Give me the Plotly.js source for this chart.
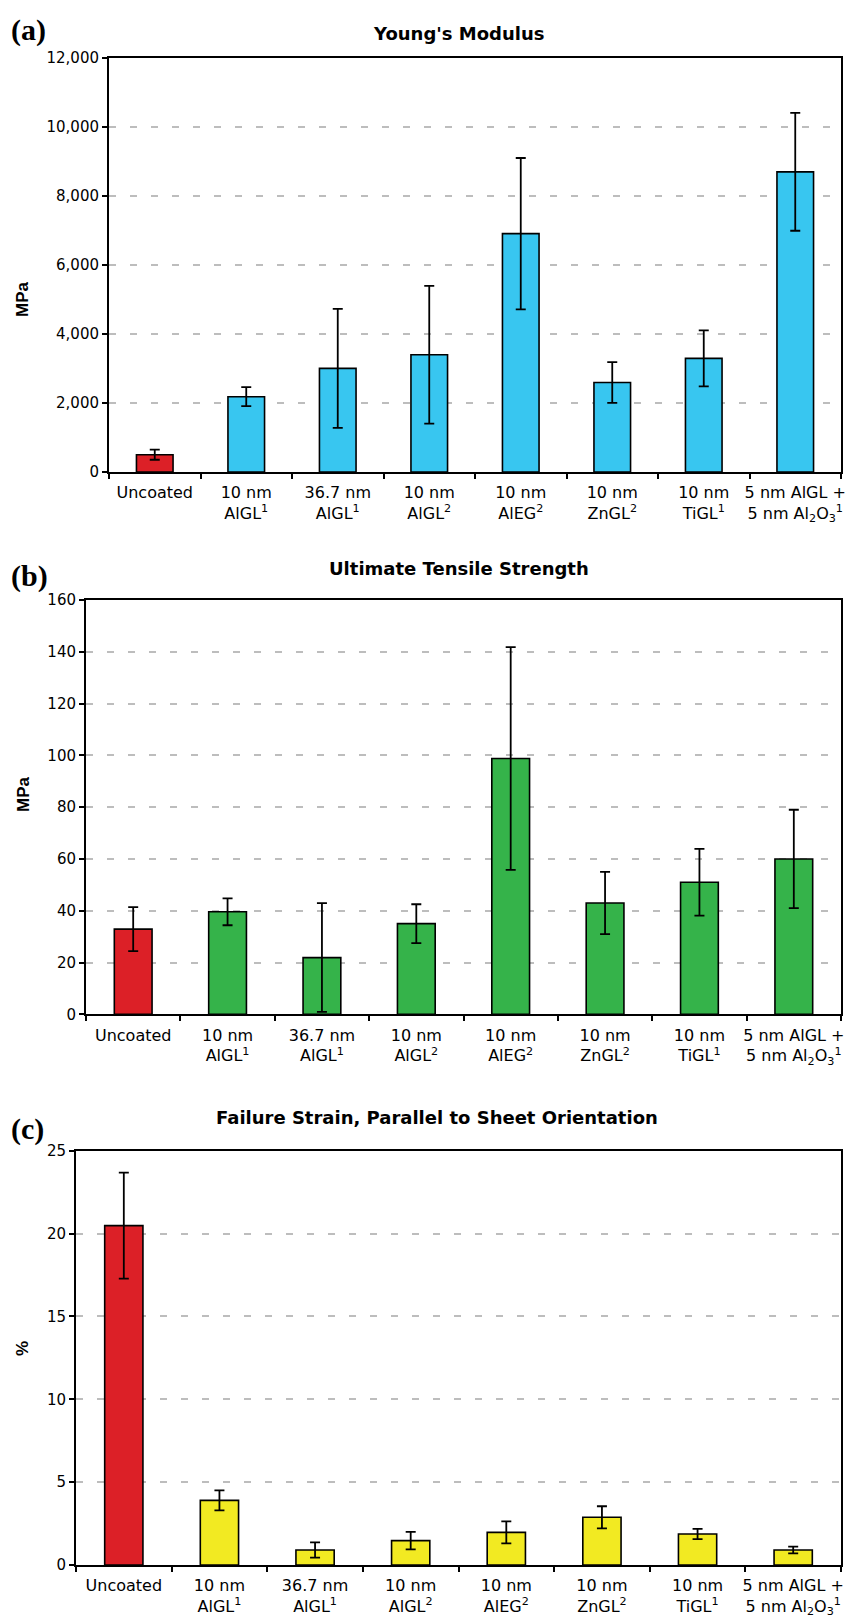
<!DOCTYPE html>
<html>
<head>
<meta charset="utf-8">
<script src="https://cdn.plot.ly/plotly-3.0.1.min.js"></script>
<style>html,body{margin:0;padding:0;background:#fff;}#chart{width:851px;height:1618px;}</style>
</head>
<body>
<div id="chart"></div>
<script>
// ---- data ----
const categories = [
  "Uncoated",
  "10 nm<br>AlGL<sup>1</sup>",
  "36.7 nm<br>AlGL<sup>1</sup>",
  "10 nm<br>AlGL<sup>2</sup>",
  "10 nm<br>AlEG<sup>2</sup>",
  "10 nm<br>ZnGL<sup>2</sup>",
  "10 nm<br>TiGL<sup>1</sup>",
  "5 nm AlGL +<br>5 nm Al<sub>2</sub>O<sub>3</sub><sup>1</sup>"
];
const modulusValues = [500, 2180, 3000, 3395, 6900, 2590, 3290, 8690];
const modulusErrors = [145, 275, 1725, 1995, 2190, 590, 810, 1705];
const utsValues = [32.9, 39.6, 21.9, 35.0, 98.8, 43.0, 51.0, 60.0];
const utsErrors = [8.5, 5.2, 21.0, 7.5, 43.0, 12.0, 12.9, 19.0];
const strainValues = [20.48, 3.90, 0.905, 1.47, 1.97, 2.88, 1.87, 0.905];
const strainErrors = [3.2, 0.6, 0.46, 0.53, 0.66, 0.665, 0.31, 0.2];
const panelTitles = ["Young's Modulus", "Ultimate Tensile Strength", "Failure Strain, Parallel to Sheet Orientation"];
const yTitles = ["MPa", "MPa", "%"];

// ---- styling ----
const W = 851, H = 1618;
const RED = "#DC2027";
const seriesColors = ["#38C6F0", "#35B34A", "#F2EA22"];
const px = v => v / W;
const py = v => 1 - v / H;

function colorsFor(base) {
  return categories.map((c, i) => i === 0 ? RED : base);
}
function barTrace(vals, errs, base, xa, ya) {
  return {
    type: "bar", x: categories, y: vals, xaxis: xa, yaxis: ya,
    marker: {color: colorsFor(base), line: {color: "#000", width: 1.6}},
    error_y: {type: "data", array: errs, visible: true, color: "#000", thickness: 1.8, width: 5},
    hoverinfo: "none", showlegend: false
  };
}
const data = [
  barTrace(modulusValues, modulusErrors, seriesColors[0], "x", "y"),
  barTrace(utsValues, utsErrors, seriesColors[1], "x2", "y2"),
  barTrace(strainValues, strainErrors, seriesColors[2], "x3", "y3")
];

// plot boxes in px: [left, right, top, bottom]
const boxes = [[109, 841, 57.5, 472], [86, 841, 600, 1014.3], [76, 841, 1150.7, 1565]];
const yRanges = [[0, 12000, 2000], [0, 160, 20], [0, 25, 5]];

function xAxis(i) {
  const b = boxes[i];
  return {
    domain: [px(b[0]), px(b[1])], anchor: i === 0 ? "y" : "y" + (i + 1),
    showline: true, mirror: true, linecolor: "#000", linewidth: 2,
    ticks: "outside", tickson: "boundaries", ticklen: 5, tickwidth: 1.5, tickcolor: "#000",
    showgrid: false, zeroline: false, fixedrange: true, tickangle: 0,
    tickfont: {family: "DejaVu Sans", size: 16, color: "#000"},
    ticklabelstandoff: 5
  };
}
function yAxis(i) {
  const b = boxes[i], r = yRanges[i];
  return {
    domain: [py(b[3]), py(b[2])], anchor: i === 0 ? "x" : "x" + (i + 1),
    range: [r[0], r[1]], dtick: r[2], tick0: 0, tickformat: ",d",
    showline: true, mirror: true, linecolor: "#000", linewidth: 2,
    ticks: "outside", ticklen: 5, tickwidth: 1.5, tickcolor: "#000",
    showgrid: true, gridcolor: "#BDBDBD", gridwidth: 2, griddash: "7px,14px",
    zeroline: false, fixedrange: true,
    tickfont: {family: "DejaVu Sans", size: 15, color: "#000"}
  };
}

const titlePos = [[459, 33], [459, 568], [437, 1117]];
const panelPos = [[9, 30, "(a)"], [9, 576, "(b)"], [9, 1129, "(c)"]];
const yTitlePos = [[23, 299], [23, 794], [22, 1349]];

const annotations = [];
panelTitles.forEach((t, i) => annotations.push({
  text: "<b>" + t + "</b>", xref: "paper", yref: "paper",
  x: px(titlePos[i][0]), y: py(titlePos[i][1]), xanchor: "center", yanchor: "middle",
  showarrow: false, font: {family: "DejaVu Sans", size: 18, color: "#000"}
}));
panelPos.forEach(p => annotations.push({
  text: "<b>" + p[2] + "</b>", xref: "paper", yref: "paper",
  x: px(p[0]), y: py(p[1]), xanchor: "left", yanchor: "middle",
  showarrow: false, font: {family: "Liberation Serif", size: 30, color: "#000"}
}));
yTitles.forEach((t, i) => annotations.push({
  text: "<b>" + t + "</b>", xref: "paper", yref: "paper", textangle: -90,
  x: px(yTitlePos[i][0]), y: py(yTitlePos[i][1]), xanchor: "center", yanchor: "middle",
  showarrow: false, font: {family: "Liberation Sans", size: 17, color: "#000"}
}));

const layout = {
  width: W, height: H, autosize: false,
  margin: {l: 0, r: 0, t: 0, b: 0, pad: 0},
  paper_bgcolor: "#fff", plot_bgcolor: "#fff",
  font: {family: "DejaVu Sans", color: "#000"},
  bargap: 0.6, showlegend: false,
  xaxis: xAxis(0), yaxis: yAxis(0),
  xaxis2: xAxis(1), yaxis2: yAxis(1),
  xaxis3: xAxis(2), yaxis3: yAxis(2),
  annotations: annotations
};

Plotly.newPlot("chart", data, layout, {displayModeBar: false});
</script>
</body>
</html>
